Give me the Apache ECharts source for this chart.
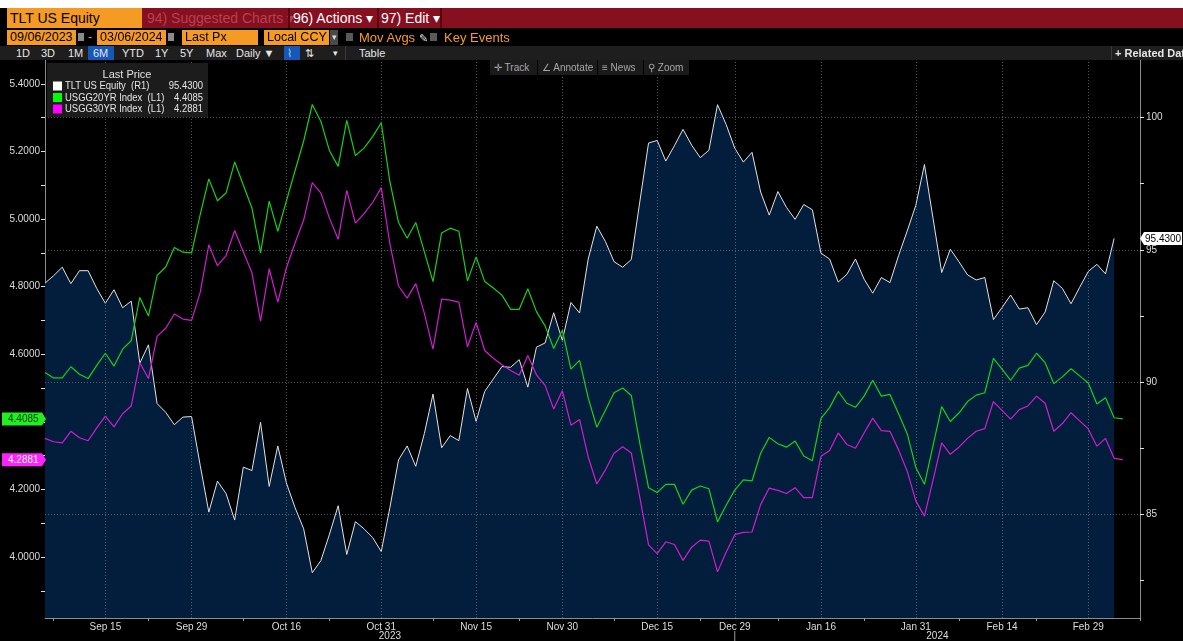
<!DOCTYPE html>
<html>
<head>
<meta charset="utf-8">
<script src="https://cdn.jsdelivr.net/npm/echarts@6/dist/echarts.min.js"></script>
<style>
html,body{margin:0;padding:0;background:#000;width:1183px;height:641px;overflow:hidden;}
body{font-family:'Liberation Sans',Arial,sans-serif;}
#chart{position:absolute;left:0;top:0;width:1183px;height:641px;}
.a{position:absolute;white-space:nowrap;box-sizing:border-box;}
.ob{background:#f59b23;color:#000;font-size:12.5px;line-height:15px;height:15px;padding-left:3px;}
.r3{color:#e6e6e6;font-size:11px;line-height:14px;top:46px;}
.tb{background:#1b1b1b;color:#a8a8a8;font-size:10px;line-height:15px;height:15px;top:60px;padding-left:4px;}
.t1{height:20px;font-size:14px;line-height:20px;top:8px;}
</style>
</head>
<body>
<div id="chart"></div>
<!-- toolbar -->
<div class="a" style="left:0;top:0;width:1183px;height:8px;background:#fff;"></div>
<div class="a" style="left:142px;top:8px;width:1041px;height:20px;background:#861020;"></div>
<div class="a t1" style="left:7px;width:135px;background:#f59b23;color:#000;padding-left:3px;">TLT US Equity</div>
<div class="a t1" style="left:147px;color:#b8404f;">94) Suggested Charts ▾</div>
<div class="a" style="left:288px;top:8px;width:2px;height:20px;background:#55070f;"></div>
<div class="a t1" style="left:293px;color:#fff;">96) Actions ▾</div>
<div class="a" style="left:377px;top:8px;width:2px;height:20px;background:#55070f;"></div>
<div class="a t1" style="left:381px;color:#fff;">97) Edit ▾</div>
<div class="a" style="left:440px;top:8px;width:2px;height:20px;background:#55070f;"></div>

<div class="a ob" style="left:7px;top:30px;width:69px;">09/06/2023</div>
<div class="a" style="left:78px;top:33px;width:6px;height:8px;background:#8a8a8a;"></div>
<div class="a" style="left:88px;top:29px;color:#f59b23;font-size:13px;">-</div>
<div class="a ob" style="left:97px;top:30px;width:69px;">03/06/2024</div>
<div class="a" style="left:168px;top:33px;width:6px;height:8px;background:#8a8a8a;"></div>
<div class="a ob" style="left:182px;top:30px;width:76px;">Last Px</div>
<div class="a ob" style="left:264px;top:30px;width:65px;">Local CCY</div>
<div class="a" style="left:330px;top:30px;width:8px;height:15px;background:#4a4a4a;color:#ddd;font-size:9px;line-height:15px;text-align:center;">▾</div>
<div class="a" style="left:346px;top:33px;width:7px;height:8px;background:#5a5a5a;"></div>
<div class="a" style="left:359px;top:30px;color:#f59b23;font-size:13px;line-height:15px;">Mov Avgs <span style="color:#ddd;font-size:11px;">✎</span></div>
<div class="a" style="left:430px;top:33px;width:7px;height:8px;background:#5a5a5a;"></div>
<div class="a" style="left:444px;top:30px;color:#f59b23;font-size:13px;line-height:15px;">Key Events</div>

<div class="a" style="left:0;top:46px;width:1183px;height:14px;background:#1e1e1e;"></div>
<div class="a" style="left:88px;top:46px;width:26px;height:14px;background:#1558b8;"></div>
<div class="a" style="left:284px;top:46px;width:16px;height:14px;background:#1558b8;"></div>
<div class="a" style="left:345px;top:46px;width:1px;height:14px;background:#3a3a3a;"></div>
<div class="a" style="left:1111px;top:46px;width:1px;height:14px;background:#3a3a3a;"></div>
<div class="a r3" style="left:16px;">1D</div>
<div class="a r3" style="left:41px;">3D</div>
<div class="a r3" style="left:68px;">1M</div>
<div class="a r3" style="left:93px;">6M</div>
<div class="a r3" style="left:122px;">YTD</div>
<div class="a r3" style="left:155px;">1Y</div>
<div class="a r3" style="left:180px;">5Y</div>
<div class="a r3" style="left:206px;">Max</div>
<div class="a r3" style="left:236px;">Daily ▼</div>
<div class="a r3" style="left:287px;color:#9cc4ff;">⌇</div>
<div class="a r3" style="left:305px;">⇅</div>
<div class="a r3" style="left:333px;font-size:9px;">▾</div>
<div class="a r3" style="left:359px;">Table</div>
<div class="a r3" style="left:1115px;font-weight:bold;">+ Related Data</div>

<div class="a tb" style="left:490px;width:47px;">✛ Track</div>
<div class="a tb" style="left:538px;width:59px;">∠ Annotate</div>
<div class="a tb" style="left:598px;width:45px;">≡ News</div>
<div class="a tb" style="left:644px;width:45px;">⚲ Zoom</div>

<script>
// ---------------- DATA ----------------
const dates = [
 "2023-09-06","2023-09-07","2023-09-08","2023-09-11","2023-09-12","2023-09-13","2023-09-14","2023-09-15","2023-09-18","2023-09-19",
 "2023-09-20","2023-09-21","2023-09-22","2023-09-25","2023-09-26","2023-09-27","2023-09-28","2023-09-29",
 "2023-10-02","2023-10-03","2023-10-04","2023-10-05","2023-10-06","2023-10-09","2023-10-10","2023-10-11","2023-10-12","2023-10-13",
 "2023-10-16","2023-10-17","2023-10-18","2023-10-19","2023-10-20","2023-10-23","2023-10-24","2023-10-25","2023-10-26","2023-10-27",
 "2023-10-30","2023-10-31",
 "2023-11-01","2023-11-02","2023-11-03","2023-11-06","2023-11-07","2023-11-08","2023-11-09","2023-11-10","2023-11-13","2023-11-14",
 "2023-11-15","2023-11-16","2023-11-17","2023-11-20","2023-11-21","2023-11-22","2023-11-24","2023-11-27","2023-11-28","2023-11-29",
 "2023-11-30",
 "2023-12-01","2023-12-04","2023-12-05","2023-12-06","2023-12-07","2023-12-08","2023-12-11","2023-12-12","2023-12-13","2023-12-14",
 "2023-12-15","2023-12-18","2023-12-19","2023-12-20","2023-12-21","2023-12-22","2023-12-26","2023-12-27","2023-12-28","2023-12-29",
 "2024-01-02","2024-01-03","2024-01-04","2024-01-05","2024-01-08","2024-01-09","2024-01-10","2024-01-11","2024-01-12","2024-01-16",
 "2024-01-17","2024-01-18","2024-01-19","2024-01-22","2024-01-23","2024-01-24","2024-01-25","2024-01-26","2024-01-29","2024-01-30",
 "2024-01-31",
 "2024-02-01","2024-02-02","2024-02-05","2024-02-06","2024-02-07","2024-02-08","2024-02-09","2024-02-12","2024-02-13","2024-02-14",
 "2024-02-15","2024-02-16","2024-02-20","2024-02-21","2024-02-22","2024-02-23","2024-02-26","2024-02-27","2024-02-28","2024-02-29",
 "2024-03-01","2024-03-04","2024-03-05","2024-03-06","2024-03-07","2024-03-08"
];
const labelDates = ["2023-09-15","2023-09-29","2023-10-16","2023-10-31","2023-11-15","2023-11-30",
 "2023-12-15","2023-12-29","2024-01-16","2024-01-31","2024-02-14","2024-02-29"];
const tickDates = ["2023-09-07","2023-09-22","2023-10-09","2023-10-23","2023-11-08","2023-11-22",
 "2023-12-08","2023-12-22","2024-01-08","2024-01-23","2024-02-07","2024-02-21","2024-03-08"];
const yearBreak = "2023-12-29";
const years = ["2023","2024"];

const legendTitle = "Last Price";
const seriesNames = ["TLT US Equity","USGG20YR Index","USGG30YR Index"];
const seriesTags = ["(R1)","(L1)","(L1)"];

const tltPx = [
 93.74,94.02,94.34,93.72,94.21,94.21,93.54,92.98,93.49,92.81,
 93.06,90.72,91.41,89.19,88.86,88.39,88.68,88.70,86.86,85.09,
 86.26,85.79,84.79,86.79,86.66,88.48,86.06,87.59,86.19,85.26,
 84.46,82.80,83.26,84.26,85.33,83.49,84.73,84.46,84.13,83.60,
 85.26,87.06,87.59,86.82,88.06,89.55,87.52,87.98,87.79,89.76,
 88.52,89.65,90.12,90.59,90.56,90.85,89.81,91.32,91.48,92.62,
 91.58,93.01,92.61,94.65,95.89,95.31,94.55,94.34,94.63,96.84,
 99.03,99.13,98.35,98.93,99.55,98.95,98.48,98.76,100.48,99.73,
 98.84,98.31,98.68,97.18,96.31,97.20,96.60,96.15,96.71,96.51,
 94.87,94.65,93.78,94.07,94.65,93.89,93.36,93.95,93.76,94.78,
 95.71,96.68,98.22,96.18,94.14,95.02,94.55,94.05,93.86,93.95,
 92.36,92.82,93.29,92.76,92.81,92.17,92.65,93.83,93.54,92.96,
 93.58,94.18,94.45,94.09,95.43
];
const usgg20 = [
 4.546,4.530,4.530,4.563,4.541,4.528,4.567,4.603,4.565,4.615,
 4.640,4.768,4.713,4.833,4.858,4.916,4.902,4.900,5.013,5.119,
 5.054,5.077,5.169,5.101,5.033,4.900,5.053,4.964,5.054,5.143,
 5.231,5.339,5.289,5.202,5.156,5.292,5.188,5.210,5.244,5.285,
 5.111,4.990,4.943,4.990,4.903,4.815,4.959,4.973,4.964,4.817,
 4.888,4.815,4.796,4.775,4.733,4.733,4.794,4.726,4.684,4.617,
 4.671,4.556,4.582,4.471,4.384,4.434,4.486,4.500,4.478,4.335,
 4.205,4.191,4.215,4.215,4.156,4.198,4.210,4.202,4.104,4.153,
 4.198,4.228,4.225,4.307,4.354,4.335,4.325,4.343,4.299,4.285,
 4.410,4.442,4.490,4.455,4.443,4.476,4.523,4.476,4.481,4.424,
 4.365,4.265,4.215,4.330,4.445,4.401,4.426,4.460,4.479,4.486,
 4.588,4.556,4.523,4.559,4.567,4.603,4.575,4.513,4.533,4.557,
 4.536,4.515,4.453,4.471,4.412,4.4085
];
const usgg30 = [
 4.351,4.341,4.338,4.372,4.353,4.344,4.382,4.417,4.385,4.424,
 4.447,4.575,4.528,4.653,4.677,4.719,4.704,4.700,4.783,4.924,
 4.862,4.892,4.966,4.903,4.841,4.698,4.853,4.754,4.856,4.929,
 4.997,5.108,5.077,5.002,4.940,5.085,4.988,5.016,5.049,5.093,
 4.927,4.802,4.766,4.809,4.721,4.615,4.763,4.760,4.754,4.622,
 4.694,4.611,4.588,4.569,4.552,4.538,4.596,4.539,4.508,4.438,
 4.492,4.390,4.407,4.296,4.216,4.258,4.307,4.326,4.308,4.175,
 4.036,4.010,4.045,4.037,3.990,4.029,4.050,4.047,3.956,4.014,
 4.066,4.073,4.074,4.155,4.204,4.197,4.188,4.205,4.176,4.176,
 4.298,4.315,4.367,4.333,4.322,4.367,4.411,4.374,4.372,4.317,
 4.254,4.166,4.121,4.228,4.338,4.304,4.325,4.351,4.372,4.380,
 4.460,4.434,4.408,4.436,4.447,4.476,4.455,4.372,4.395,4.427,
 4.403,4.379,4.328,4.351,4.292,4.2881
];
const leftTicks = [3.9,4.0,4.1,4.2,4.3,4.4,4.5,4.6,4.7,4.8,4.9,5.0,5.1,5.2,5.3,5.4];
const leftLabels = [4.0,4.2,4.4,4.6,4.8,5.0,5.2,5.4];
const rightTicks = [82.5,85,87.5,90,92.5,95,97.5,100];
const rightLabels = [85,90,95,100];

// ---------------- CHART ----------------
const FONT = "'Liberation Sans', Arial, sans-serif";
const MON = ["Jan","Feb","Mar","Apr","May","Jun","Jul","Aug","Sep","Oct","Nov","Dec"];
function fmtDate(s){const p=s.split("-");return MON[+p[1]-1]+" "+(+p[2]);}
const lastVals = [tltPx, usgg20, usgg30].map(a => a[a.length-1].toFixed(4));
const colors = ["#ffffff","#18d018","#d01ed0"];
const legendColors = ["#ffffff","#00ff00","#ff00ff"];

const chart = echarts.init(document.getElementById("chart"));
const gridLineData = rightLabels.map(v => ({yAxis: v})).concat(labelDates.map(d => ({xAxis: d})));

chart.setOption({
  animation: false,
  backgroundColor: "#000",
  textStyle: {fontFamily: FONT},
  grid: {left: 45, right: 43, top: 60, bottom: 23},
  xAxis: {
    type: "category", data: dates, boundaryGap: false,
    axisLine: {lineStyle: {color: "#8c8c8c", width: 1}},
    axisTick: {show: true, length: 3, interval: (i, v) => tickDates.includes(v), lineStyle: {color: "#9a9a9a"}},
    axisLabel: {interval: (i, v) => labelDates.includes(v), formatter: fmtDate,
      color: "#dcdcdc", fontSize: 10, margin: 4, fontFamily: FONT},
    splitLine: {show: false}
  },
  yAxis: [
    {
      type: "value", position: "left", min: 3.8195, max: 5.4707, scale: true,
      axisLine: {show: true, lineStyle: {color: "#8c8c8c"}},
      axisTick: {show: true, length: 4, customValues: leftTicks, lineStyle: {color: "#e0e0e0"}},
      axisLabel: {customValues: leftLabels, formatter: v => v.toFixed(4), color: "#dcdcdc",
        fontSize: 10, margin: 5, fontFamily: FONT},
      splitLine: {show: false}
    },
    {
      type: "value", position: "right", min: 81.09, max: 102.168, scale: true,
      axisLine: {show: true, lineStyle: {color: "#8c8c8c"}},
      axisTick: {show: true, length: 4, customValues: rightTicks, lineStyle: {color: "#e0e0e0"}},
      axisLabel: {customValues: rightLabels, formatter: v => String(v), color: "#dcdcdc",
        fontSize: 10, margin: 6, fontFamily: FONT},
      splitLine: {show: false}
    }
  ],
  series: [
    {
      name: seriesNames[0], type: "line", yAxisIndex: 1, data: tltPx, symbol: "none", z: 2,
      itemStyle: {color: colors[0]},
      lineStyle: {color: "#e2e2e2", width: 1},
      areaStyle: {color: "#031e3c", opacity: 1, origin: "start"},
      markLine: {
        silent: true, symbol: ["none", "none"], label: {show: false}, animation: false,
        lineStyle: {color: "rgba(150,150,150,0.55)", type: [1, 2], width: 1},
        emphasis: {disabled: true},
        data: gridLineData
      }
    },
    {
      name: seriesNames[1], type: "line", yAxisIndex: 0, data: usgg20, symbol: "none", z: 6,
      itemStyle: {color: colors[1]}, lineStyle: {color: colors[1], width: 1.2}
    },
    {
      name: seriesNames[2], type: "line", yAxisIndex: 0, data: usgg30, symbol: "none", z: 6,
      itemStyle: {color: colors[2]}, lineStyle: {color: colors[2], width: 1.2}
    }
  ]
});

// ---------- annotations positioned through the chart's scales ----------
const gx0 = chart.convertToPixel({xAxisIndex: 0}, dates[0]);
const gx1 = chart.convertToPixel({xAxisIndex: 0}, dates[dates.length - 1]);
const xb = chart.convertToPixel({xAxisIndex: 0}, yearBreak);
const yG = chart.convertToPixel({yAxisIndex: 0}, usgg20[usgg20.length - 1]);
const yM = chart.convertToPixel({yAxisIndex: 0}, usgg30[usgg30.length - 1]);
const yT = chart.convertToPixel({yAxisIndex: 1}, tltPx[tltPx.length - 1]);

function leftTag(y, bg, fg, txt){
  return [
    {type: "polygon", z: 200, zlevel: 1, shape: {points: [[2, y - 6.5], [42, y - 6.5], [46, y], [42, y + 6.5], [2, y + 6.5]]}, style: {fill: bg}},
    {type: "text", z: 201, zlevel: 1, x: 8, y: y + 0.5, style: {text: txt, fill: fg, font: "10px " + FONT, verticalAlign: "middle"}}
  ];
}
// legend block (Bloomberg style "Last Price" box)
const legendEls = [
  {type: "rect", z: 90, shape: {x: 47, y: 63, width: 161, height: 54}, style: {fill: "#1c1c1c"}},
  {type: "text", z: 100, x: 127, y: 75, style: {text: legendTitle, fill: "#e0e0e0", font: "11px " + FONT, align: "center", verticalAlign: "middle"}}
];
seriesNames.forEach((n, i) => {
  const ry = 86 + i * 11.5;
  legendEls.push({type: "rect", z: 100, shape: {x: 53, y: ry - 4.5, width: 9, height: 9}, style: {fill: legendColors[i]}});
  legendEls.push({type: "text", z: 100, x: 65, y: ry, scaleX: 0.86,
    style: {text: n + "  " + seriesTags[i], fill: "#e6e6e6", font: "11px " + FONT, verticalAlign: "middle"}});
  legendEls.push({type: "text", z: 100, x: 203, y: ry, scaleX: 0.86,
    style: {text: lastVals[i], fill: "#e6e6e6", font: "11px " + FONT, align: "right", verticalAlign: "middle"}});
});

chart.setOption({
  graphic: legendEls
    .concat(leftTag(yG, "#22ee22", "#003a00", lastVals[1]))
    .concat(leftTag(yM, "#ff22ff", "#ffffff", lastVals[2]))
    .concat([
      {type: "polygon", z: 200, zlevel: 1, shape: {points: [[1140, yT], [1144, yT - 6.5], [1182, yT - 6.5], [1182, yT + 6.5], [1144, yT + 6.5]]}, style: {fill: "#ffffff"}},
      {type: "text", z: 201, zlevel: 1, x: 1145, y: yT + 0.5, style: {text: lastVals[0], fill: "#000", font: "10px " + FONT, verticalAlign: "middle"}},
      {type: "line", z: 50, shape: {x1: xb, y1: 631, x2: xb, y2: 641}, style: {stroke: "#9a9a9a", lineWidth: 1}},
      {type: "text", x: (gx0 + xb) / 2, y: 636, style: {text: years[0], fill: "#dcdcdc", font: "10px " + FONT, align: "center", verticalAlign: "middle"}},
      {type: "text", x: (xb + gx1) / 2, y: 636, style: {text: years[1], fill: "#dcdcdc", font: "10px " + FONT, align: "center", verticalAlign: "middle"}}
    ])
});
</script>
</body>
</html>
